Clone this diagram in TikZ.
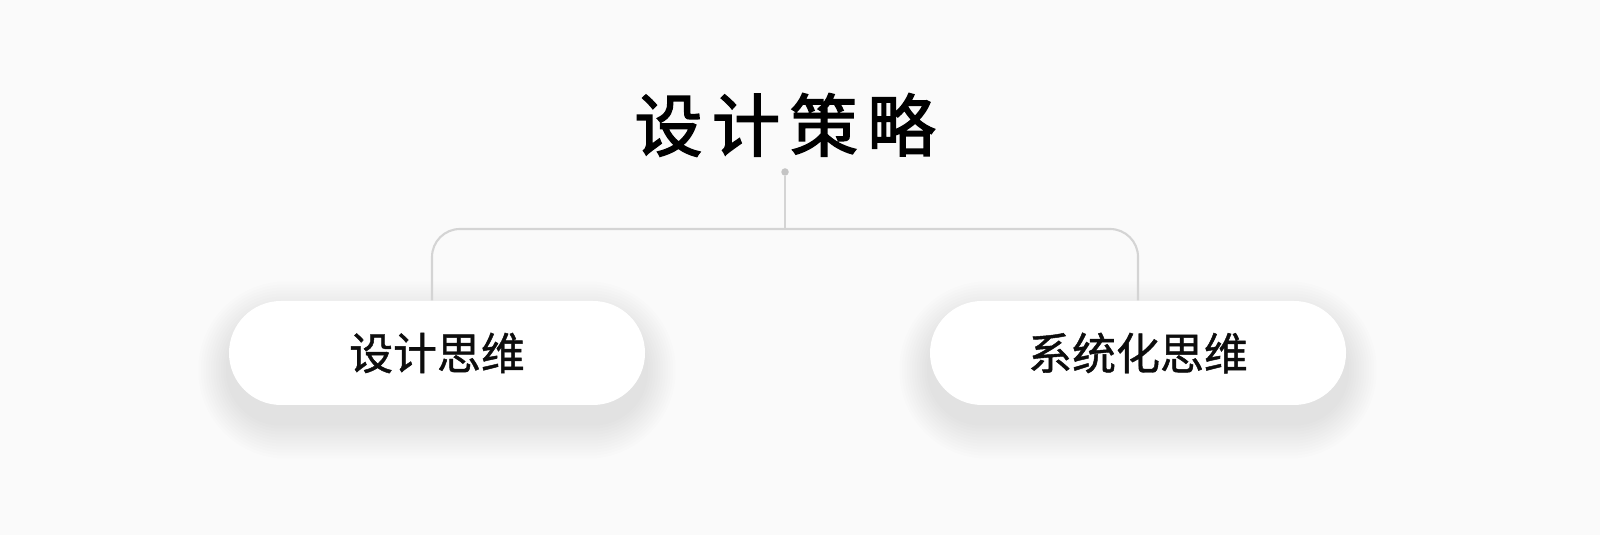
\documentclass[tikz,border=0pt]{standalone}
\usepackage{fontspec}
\newfontfamily\cjk[FakeBold=1]{Noto Sans CJK SC}
\newfontfamily\cjktitle[LetterSpace=14,FakeBold=2.2]{Noto Sans CJK SC}
\usetikzlibrary{backgrounds}
\definecolor{bgcol}{HTML}{FAFAFA}
\definecolor{linecol}{HTML}{D4D4D4}
\definecolor{dotcol}{HTML}{C4C4C4}
\tikzset{
  conn/.style={draw=linecol,line width=0.6pt,rounded corners=0.28cm},
  pill/.style={fill=white,rounded corners=0.52cm,minimum width=4.16cm,minimum height=1.04cm,
    font=\cjk\fontsize{12.5pt}{14pt}\selectfont,text=black!95},
}
\begin{document}
\begin{tikzpicture}
\useasboundingbox (0,0) rectangle (16,5.35);

%title
\node (title) at (7.85,4.10) {\cjktitle\fontsize{19.4pt}{22pt}\selectfont 设计策略};
\node[circle,fill=dotcol,inner sep=0pt,minimum size=0.075cm] (dot) at (7.85,3.63) {};

%pills
\node[pill] (think) at (4.37,1.82) {设计思维};
\node[pill] (system) at (11.38,1.82) {系统化思维};

%connectors
\draw[conn] ([xshift=-0.05cm]think.north) |- (7.85,3.06) -| (system.north);
\draw[conn] (dot) -- (dot |- 0,3.06);

%background and soft shadows
\begin{scope}[on background layer]
\fill[bgcol] (0,0) rectangle (16,5.35);
\foreach \n in {think,system}
  \foreach \i in {1,...,12}
    \fill[black,opacity=0.006,rounded corners=0.52cm+\i*0.03cm]
      ([xshift=-\i*0.025cm,yshift=-0.17cm-\i*0.03cm]\n.south west)
      rectangle ([xshift=\i*0.025cm,yshift=-0.17cm+\i*0.03cm]\n.north east);
\end{scope}
\end{tikzpicture}
\end{document}
